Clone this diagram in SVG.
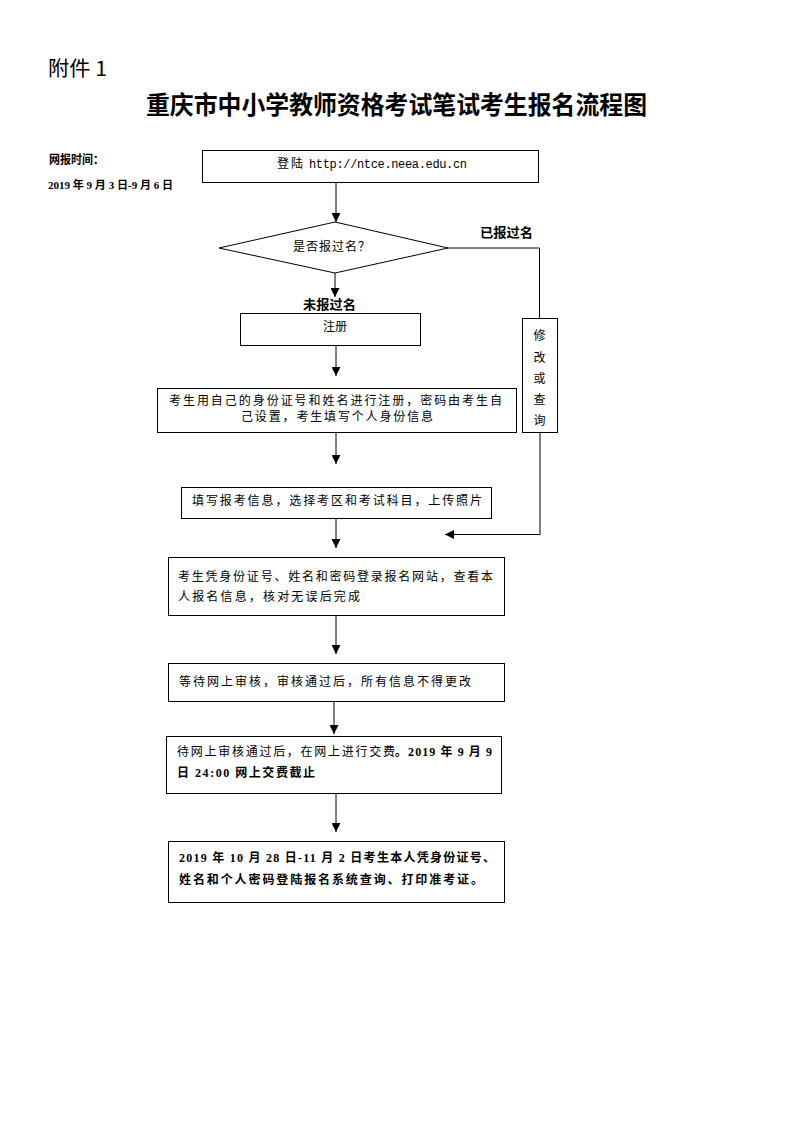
<svg xmlns="http://www.w3.org/2000/svg" width="793" height="1122" viewBox="0 0 793 1122">
<defs>
<marker id="ah" viewBox="0 0 10 10" refX="10" refY="5" markerWidth="9" markerHeight="9" markerUnits="userSpaceOnUse" orient="auto">
<path d="M0,0 L10,5 L0,10 Z" fill="#000"/>
</marker>
<style>
.bx{fill:#fff;stroke:#000;stroke-width:1}
.t{font-family:"Liberation Serif","Noto Sans CJK SC",serif;font-size:12px;fill:#000}
.b{font-family:"Liberation Serif","Noto Sans CJK SC",serif;font-weight:bold;fill:#000}
.c{fill:none;stroke:#000;stroke-width:1}
.m{font-family:"Liberation Mono",monospace;font-size:12px;fill:#000}
</style>
</defs>
<rect width="793" height="1122" fill="#fff"/>
<text x="48" y="76" font-family="Noto Sans CJK SC, sans-serif" font-size="20" textLength="59" lengthAdjust="spacingAndGlyphs">附件 1</text>
<text x="146" y="114" class="b" font-size="25" textLength="501" lengthAdjust="spacingAndGlyphs">重庆市中小学教师资格考试笔试考生报名流程图</text>
<text x="49" y="164" class="b" font-size="12" textLength="55" lengthAdjust="spacingAndGlyphs">网报时间：</text>
<text x="48" y="189" class="b" font-size="11" textLength="125" lengthAdjust="spacingAndGlyphs">2019 年 9 月 3 日-9 月 6 日</text>

<g id="connectors">
<line class="c" x1="336" y1="182" x2="336" y2="222" marker-end="url(#ah)"/>
<line class="c" x1="335" y1="273" x2="335" y2="297" marker-end="url(#ah)"/>
<polyline class="c" points="448,248 539.5,248 539.5,318"/>
<polyline class="c" points="540,433 540,534.5 445,534.5" marker-end="url(#ah)"/>
<line class="c" x1="336" y1="345" x2="336" y2="376" marker-end="url(#ah)"/>
<line class="c" x1="336" y1="432" x2="336" y2="464" marker-end="url(#ah)"/>
<line class="c" x1="336" y1="518" x2="336" y2="548" marker-end="url(#ah)"/>
<line class="c" x1="336" y1="615" x2="336" y2="654" marker-end="url(#ah)"/>
<line class="c" x1="334" y1="701" x2="334" y2="734" marker-end="url(#ah)"/>
<line class="c" x1="336" y1="793" x2="336" y2="832" marker-end="url(#ah)"/>
<text x="480" y="237" class="b" font-size="13" textLength="53" lengthAdjust="spacingAndGlyphs">已报过名</text>
<text x="303" y="309" class="b" font-size="13" textLength="53" lengthAdjust="spacingAndGlyphs">未报过名</text>
</g>

<g id="n1">
<rect class="bx" x="202.5" y="150.5" width="336" height="32"/>
<text x="277" y="168" class="t" textLength="26" lengthAdjust="spacing">登陆</text>
<text x="309" y="168" class="m" textLength="158" lengthAdjust="spacing">http://ntce.neea.edu.cn</text>
</g>
<g id="n2">
<polygon class="bx" points="219,248 335,222 448,248 335,273"/>
<text x="293" y="251" class="t" textLength="77" lengthAdjust="spacing">是否报过名？</text>
</g>
<g id="n3">
<rect class="bx" x="240.5" y="313.5" width="180" height="32"/>
<text x="335" y="331" class="t" text-anchor="middle">注册</text>
</g>
<g id="n4">
<rect class="bx" x="522.5" y="318.5" width="35" height="114"/>
<text x="539.5" y="340" class="t" text-anchor="middle">修</text>
<text x="539.5" y="362" class="t" text-anchor="middle">改</text>
<text x="539.5" y="383" class="t" text-anchor="middle">或</text>
<text x="539.5" y="404" class="t" text-anchor="middle">查</text>
<text x="539.5" y="425" class="t" text-anchor="middle">询</text>
</g>
<g id="n5">
<rect class="bx" x="157.5" y="388.5" width="359" height="44"/>
<text x="169" y="405" class="t" textLength="333" lengthAdjust="spacing">考生用自己的身份证号和姓名进行注册，密码由考生自</text>
<text x="241" y="421" class="t" textLength="192" lengthAdjust="spacing">己设置，考生填写个人身份信息</text>
</g>
<g id="n6">
<rect class="bx" x="181.5" y="487.5" width="310" height="31"/>
<text x="192" y="505" class="t" textLength="290" lengthAdjust="spacing">填写报考信息，选择考区和考试科目，上传照片</text>
</g>
<g id="n7">
<rect class="bx" x="168.5" y="557.5" width="336" height="58"/>
<text x="178" y="581" class="t" textLength="315" lengthAdjust="spacing">考生凭身份证号、姓名和密码登录报名网站，查看本</text>
<text x="178" y="601" class="t" textLength="182" lengthAdjust="spacing">人报名信息，核对无误后完成</text>
</g>
<g id="n8">
<rect class="bx" x="168.5" y="663.5" width="336" height="38"/>
<text x="179" y="686" class="t" textLength="292" lengthAdjust="spacing">等待网上审核，审核通过后，所有信息不得更改</text>
</g>
<g id="n9">
<rect class="bx" x="166.5" y="736.5" width="335" height="57"/>
<text x="177" y="756" class="t" textLength="218" lengthAdjust="spacing">待网上审核通过后，在网上进行交费</text>
<text x="395" y="756" class="b" font-size="12" textLength="97" lengthAdjust="spacing">。2019 年 9 月 9</text>
<text x="177" y="777" class="b" font-size="12" textLength="138" lengthAdjust="spacing">日 24:00 网上交费截止</text>
</g>
<g id="n10">
<rect class="bx" x="168.5" y="841.5" width="336" height="61"/>
<text x="179" y="862" class="b" font-size="12" textLength="316" lengthAdjust="spacing">2019 年 10 月 28 日-11 月 2 日考生本人凭身份证号、</text>
<text x="179" y="884" class="b" font-size="12" textLength="304" lengthAdjust="spacing">姓名和个人密码登陆报名系统查询、打印准考证。</text>
</g>
</svg>
